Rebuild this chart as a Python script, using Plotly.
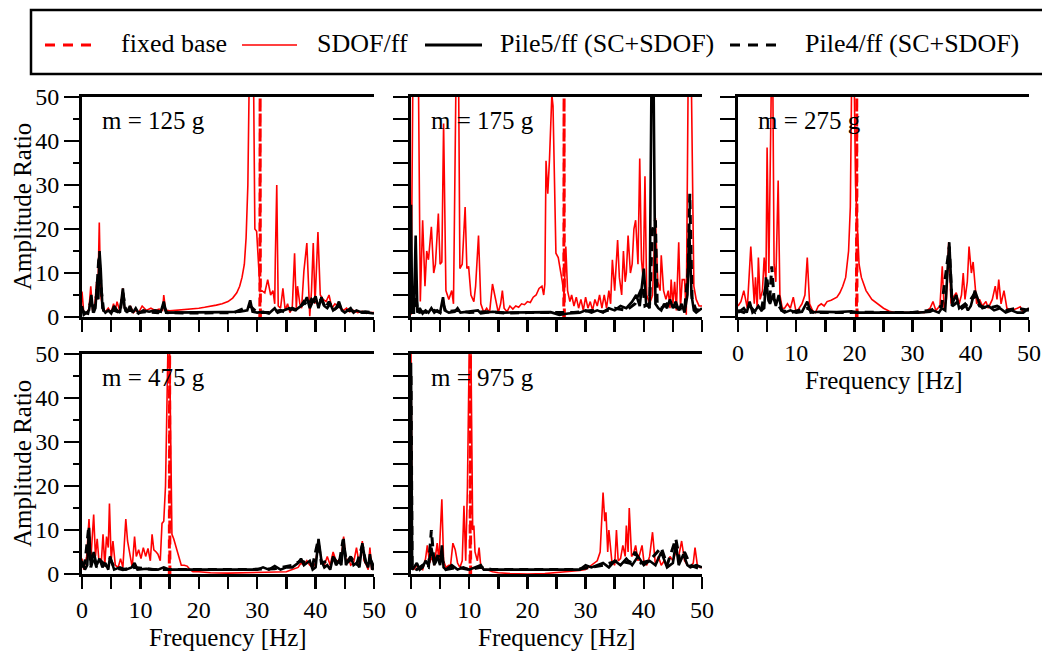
import plotly.graph_objects as go

# ---------------- data ----------------
MASS_LABELS = ["m = 125 g", "m = 175 g", "m = 275 g", "m = 475 g", "m = 975 g"]
X_TICKS = [0, 5, 10, 15, 20, 25, 30, 35, 40, 45, 50]
X_TICK_TEXT = ["0", "", "10", "", "20", "", "30", "", "40", "", "50"]
Y_TICKS = [0, 10, 20, 30, 40, 50]

SDOF_125 = [(0,5.8),(0.3,1.0),(0.8,0.8),(1.2,2.0),(1.5,7.0),(1.8,1.5),(2.2,3.0),(2.5,8.0),(2.7,4.0),(2.96,21.5),(3.2,5.0),(3.6,1.5),(4.0,1.2),(4.5,2.0),(5.0,1.0),(5.4,3.0),(5.7,1.5),(6.0,3.5),(6.5,1.2),(7.0,6.5),(7.3,2.0),(7.8,1.5),(8.3,2.5),(8.8,1.0),(9.2,1.5),(9.7,1.0),(10.3,2.5),(11.0,1.5),(11.8,2.0),(12.5,1.5),(13.2,1.8),(13.8,1.5),(14.0,5.0),(14.3,1.6),(15,1.4),(16,1.5),(17,1.6),(18,1.7),(19,1.9),(20,2.0),(21,2.2),(22,2.4),(23,2.7),(24,3.0),(25,3.5),(25.8,4.3),(26.5,5.5),(27.0,7.0),(27.4,9.0),(27.8,12.0),(28.1,18.0),(28.4,30.0),(28.6,50.5),(29.4,50.5),(29.6,20.0),(29.9,19.5),(30.2,12.0),(30.5,5.8),(30.8,6.0),(31.3,5.5),(31.8,8.5),(32.3,5.0),(32.7,6.0),(33.0,3.0),(33.1,13.0),(33.35,30.0),(33.6,2.5),(34.0,2.0),(34.4,6.5),(34.8,1.5),(35.2,3.0),(35.6,1.0),(36.0,2.0),(36.4,14.5),(36.7,2.0),(36.9,7.0),(37.3,3.0),(37.6,2.0),(38.0,10.5),(38.5,16.8),(38.8,7.0),(39.0,0.2),(39.3,6.0),(39.6,16.8),(39.9,3.0),(40.4,19.3),(40.8,5.0),(41.3,4.0),(41.8,3.5),(42.3,5.0),(42.8,2.0),(43.3,3.0),(43.8,2.5),(44.3,2.0),(44.8,1.5),(45.3,2.0),(45.8,1.2),(46.5,1.5),(47.2,1.0),(48,1.3),(48.7,0.8),(49.3,1.0),(50,1.0)]
PILE5_125 = [(0,2.5),(0.3,0.5),(0.8,1.0),(1.2,1.5),(1.6,5.0),(1.9,1.0),(2.3,2.0),(2.6,8.0),(2.8,4.0),(3.0,15.0),(3.2,11.0),(3.5,2.0),(4.0,1.0),(4.5,1.5),(5.0,0.8),(5.5,2.5),(6.0,1.5),(6.5,1.0),(7.0,6.5),(7.3,2.0),(7.7,1.0),(8.2,2.5),(8.7,1.0),(9.2,2.0),(9.7,0.8),(10.5,1.5),(11.5,1.2),(12.5,1.5),(13.5,1.2),(14.0,3.5),(14.4,1.0),(16,1.0),(20,1.0),(24,1.1),(27,1.2),(28.3,1.5),(28.8,3.8),(29.2,1.2),(30,1.0),(31,1.2),(32,0.8),(33,2.0),(33.5,1.0),(34.5,1.5),(35.5,2.0),(36.5,1.5),(37.5,2.5),(38.0,3.0),(38.5,4.5),(39.0,2.0),(39.5,3.5),(40.0,4.7),(40.5,2.0),(41.0,4.5),(41.5,2.5),(42.0,2.0),(42.5,3.0),(43.0,1.5),(43.5,2.0),(44.0,3.5),(44.5,1.5),(45.0,1.0),(45.5,1.5),(46.0,2.0),(46.5,1.0),(47.0,1.5),(48.0,1.0),(49.0,1.0),(50,0.8)]
PILE4_125 = [(0,1.5),(0.5,1.0),(1.0,0.8),(1.5,3.5),(2.0,1.0),(2.5,5.0),(2.9,14.0),(3.3,6.0),(3.7,1.5),(4.5,1.0),(5.5,1.5),(6.5,1.0),(7.0,5.5),(7.5,1.5),(8.5,1.5),(9.5,1.0),(11,1.2),(13,1.0),(14.0,2.5),(14.5,1.0),(18,0.9),(22,1.0),(26,1.0),(28.8,2.5),(30,1.0),(32,1.0),(34,1.5),(35,1.0),(36,2.0),(37,1.5),(38,3.5),(38.7,2.5),(39.3,4.0),(40.2,3.0),(41,4.0),(41.7,2.0),(42.3,3.5),(43,1.5),(44,2.5),(45,1.5),(46,1.5),(47,1.0),(48.5,1.2),(50,1.0)]
FIXED_125 = [(30.45,-1.0),(30.5,55.0),(30.55,-1.0)]

SDOF_175 = [(0,0.5),(0.15,20),(0.3,50.5),(1.3,50.5),(1.6,3.5),(2.0,22.0),(2.4,7.0),(2.7,15.0),(3.0,13.0),(3.5,20.5),(3.9,10.0),(4.2,12.0),(4.7,23.5),(5.0,12.0),(5.3,12.5),(5.6,44.0),(6.0,6.0),(6.5,4.0),(7.0,6.0),(7.3,3.0),(7.7,50.5),(8.2,50.5),(8.4,11.0),(8.8,12.0),(9.3,25.0),(9.6,11.0),(9.9,11.5),(10.3,5.0),(10.8,3.5),(11.1,7.0),(11.6,18.5),(12.0,3.0),(12.5,1.0),(13.0,2.0),(13.5,1.0),(14.0,7.5),(14.5,4.0),(15.0,1.0),(15.4,3.0),(15.7,6.0),(16.0,2.0),(16.5,1.2),(17.0,2.5),(17.5,1.8),(18.0,2.5),(18.5,2.2),(19.0,3.0),(19.5,2.8),(20.0,3.5),(20.5,3.3),(21.0,4.5),(21.5,5.0),(22.0,6.5),(22.5,7.0),(22.8,5.0),(23.0,7.5),(23.2,35.5),(23.5,28.0),(23.8,36.0),(24.0,45.0),(24.2,50.5),(24.4,48.0),(24.6,35.0),(24.9,14.5),(25.3,13.5),(25.6,11.5),(26.0,8.0),(26.3,5.0),(26.6,16.0),(26.9,6.0),(27.3,3.5),(27.6,5.0),(28.0,2.5),(28.4,4.5),(28.8,2.0),(29.2,4.0),(29.6,1.5),(30.0,4.5),(30.4,2.0),(30.8,3.5),(31.2,1.5),(31.6,4.0),(32.0,2.5),(32.4,5.0),(32.8,2.0),(33.2,5.0),(33.6,2.0),(34.0,6.0),(34.3,3.0),(34.6,13.0),(35.0,6.0),(35.5,17.5),(35.8,9.0),(36.2,5.0),(36.5,15.0),(36.8,8.0),(37.0,10.0),(37.3,18.5),(37.7,10.0),(38.0,12.0),(38.3,20.0),(38.6,22.0),(39.0,12.0),(39.3,36.0),(39.6,13.0),(39.9,8.5),(40.2,32.0),(40.5,5.0),(41.0,3.0),(41.5,5.0),(42.0,22.5),(42.4,8.0),(42.8,6.0),(43.0,14.0),(43.4,6.0),(43.8,4.0),(44.2,6.0),(44.5,2.0),(44.7,8.5),(45.0,3.0),(45.3,8.0),(45.6,1.5),(46.0,17.0),(46.3,2.0),(46.6,8.5),(47.0,8.5),(47.3,0.5),(47.6,50.5),(48.2,50.5),(48.6,7.0),(49.0,4.0),(49.5,2.5),(50,2.5)]
PILE5_175 = [(0,25.5),(0.2,1.0),(0.5,1.0),(0.8,18.5),(1.1,1.0),(1.5,2.0),(2,0.8),(2.5,1.5),(3,1.0),(3.5,2.0),(4,1.0),(4.5,1.5),(5.0,1.0),(5.5,4.5),(5.8,1.5),(6.5,1.0),(7.5,1.2),(8.0,2.0),(8.5,1.0),(10,1.2),(11.5,1.5),(12,0.8),(14,1.2),(16,1.0),(18,1.0),(20,1.0),(24,1.1),(25.5,0.5),(27,0.8),(29,1.0),(30,1.5),(31,1.0),(32,1.5),(33,1.0),(34,2.0),(35,1.5),(36,2.5),(37,2.0),(38,3.5),(38.7,5.0),(39.3,2.5),(40.0,11.0),(40.4,3.0),(41.0,2.0),(41.3,50.5),(41.7,50.5),(42.0,3.0),(42.5,2.0),(43,1.5),(43.5,3.0),(44,2.0),(44.5,4.0),(45,2.0),(45.5,3.5),(46,1.5),(46.5,3.0),(47,1.0),(47.5,5.0),(47.8,20.0),(48.2,5.0),(48.6,1.5),(49,1.0),(50,2.0)]
PILE4_175 = [(0,3.0),(0.4,1.0),(0.8,5.0),(1.2,1.0),(2,1.2),(3,1.0),(4,1.5),(5.0,1.0),(5.5,3.0),(6,1.2),(8,1.5),(10,1.0),(13,1.2),(16,0.9),(20,1.0),(24,1.0),(28,1.0),(31,1.5),(33,1.2),(35,2.0),(37,1.5),(38.5,3.0),(39.3,5.5),(39.8,7.0),(40.2,2.5),(41,3.0),(41.5,20.0),(42.0,22.0),(42.3,3.0),(43,2.0),(44,3.0),(45,2.5),(46,2.0),(47,1.5),(47.6,10.0),(47.9,28.0),(48.3,4.0),(49,1.5),(50,2.0)]
FIXED_175 = [(26.25,-1.0),(26.3,55.0),(26.35,-1.0)]

SDOF_275 = [(0,2.5),(0.5,3.5),(1.0,6.0),(1.3,4.0),(1.6,2.0),(2.2,16.0),(2.5,10.0),(2.8,3.0),(3.0,9.0),(3.3,2.0),(3.5,13.5),(3.8,4.0),(4.2,6.0),(4.5,13.5),(4.8,8.0),(5.0,38.5),(5.3,10.0),(5.6,40.0),(5.7,50.5),(6.0,50.5),(6.2,12.0),(6.5,8.0),(6.9,31.0),(7.2,5.0),(7.6,2.0),(8.0,2.0),(8.5,3.0),(9.0,2.0),(9.5,4.5),(10.0,1.0),(10.5,2.0),(11.0,3.0),(11.5,5.0),(11.9,13.5),(12.3,3.0),(12.8,1.5),(13.3,1.0),(13.8,2.5),(14.3,3.0),(14.8,2.5),(15.3,3.5),(16.0,3.8),(17.0,4.5),(17.5,5.5),(18.0,7.0),(18.5,9.0),(19.0,15.0),(19.3,25.0),(19.5,50.5),(20.0,50.5),(20.2,30.0),(20.5,20.0),(20.8,12.0),(21.2,9.0),(22.0,6.0),(23.0,4.0),(24.0,3.0),(25.0,2.0),(26.0,1.3),(27.0,1.0),(28,1.0),(30,1.0),(31,1.2),(32,1.0),(33,2.0),(33.5,3.5),(34,1.5),(34.7,2.5),(35.1,11.5),(35.4,2.0),(35.8,4.0),(36.2,17.0),(36.6,3.0),(37.0,4.5),(37.5,5.5),(38.0,3.0),(38.4,5.0),(38.7,10.0),(39.0,4.0),(39.4,8.0),(39.7,16.0),(40.1,10.0),(40.4,12.5),(40.7,7.0),(41.0,3.0),(41.5,4.0),(42.0,2.5),(42.6,3.5),(43.0,2.0),(43.7,4.0),(44.2,7.0),(44.5,4.0),(44.8,8.5),(45.2,3.0),(45.7,6.0),(46.2,2.0),(47,1.5),(48,2.0),(48.5,2.3),(49,1.0),(50,2.0)]
PILE5_275 = [(0,1.0),(0.5,1.5),(1.0,2.0),(1.5,1.0),(2.0,3.5),(2.5,1.0),(3.0,1.5),(3.5,2.5),(4.0,1.5),(4.5,2.0),(4.8,9.0),(5.2,4.0),(5.5,3.0),(6.0,5.0),(6.5,2.5),(7.0,5.0),(7.5,1.5),(8,1.0),(9,1.5),(10,1.0),(11,1.2),(11.9,3.5),(12.5,1.0),(14,1.2),(17,1.1),(19.5,1.3),(20.5,1.0),(24,1.0),(28,1.0),(31,1.0),(33,1.2),(33.5,1.5),(34.5,1.0),(35,2.0),(35.6,1.5),(36.3,17.0),(36.8,3.0),(37.5,5.0),(38,2.0),(38.5,2.5),(39,3.0),(39.5,1.5),(40,2.5),(40.7,6.0),(41.5,3.0),(42,2.0),(43,2.5),(44,1.5),(45,2.0),(46,1.0),(47,1.5),(48,1.0),(49,1.0),(50,2.0)]
PILE4_275 = [(0,1.5),(1,1.0),(2,2.5),(3,1.0),(4,1.5),(5.0,8.5),(5.4,3.0),(5.8,11.5),(6.2,4.0),(6.8,3.0),(7.5,1.5),(9,1.0),(12,2.0),(13,1.0),(18,1.0),(22,1.1),(26,1.0),(30,1.0),(33,1.5),(35,2.5),(36.3,16.0),(36.8,2.5),(37.8,3.5),(38.5,2.0),(39.5,3.0),(40.5,5.0),(41.5,2.5),(43,2.0),(44.5,2.5),(46,1.5),(48,2.0),(50,1.5)]
FIXED_275 = [(20.35,-1.0),(20.4,55.0),(20.45,-1.0)]

SDOF_475 = [(0,3.5),(0.3,1.0),(0.8,4.0),(1.2,12.5),(1.5,3.0),(2.0,13.5),(2.3,4.0),(2.6,8.0),(2.9,3.0),(3.3,2.5),(3.6,9.0),(3.9,2.0),(4.2,8.5),(4.5,6.0),(4.7,16.0),(5.0,3.0),(5.3,7.5),(5.7,2.0),(6.2,1.5),(6.6,3.5),(7.0,1.5),(7.5,12.5),(7.8,7.5),(8.2,4.0),(8.6,1.5),(9.0,8.5),(9.3,4.0),(9.7,5.5),(10.1,3.5),(10.5,6.0),(10.9,4.0),(11.3,5.8),(11.7,3.0),(12.0,9.0),(12.3,5.5),(12.7,5.0),(13.0,4.5),(13.4,3.0),(13.7,11.5),(14.0,12.0),(14.3,20.0),(14.5,35.0),(14.7,50.5),(15.0,50.5),(15.2,20.0),(15.4,9.0),(15.7,8.0),(16.0,6.5),(16.5,4.0),(17.0,2.0),(17.5,2.0),(18.0,1.8),(18.5,1.0),(19.0,0.5),(20,0.5),(22,0.3),(25,0.2),(28,0.3),(30,0.3),(32,0.5),(35,0.5),(36,1.0),(37,1.5),(37.5,2.5),(38,2.0),(38.5,3.0),(39,2.0),(39.5,1.5),(40,2.5),(40.5,7.5),(41,3.0),(41.5,2.0),(42,4.0),(42.5,2.0),(43,5.0),(43.5,3.0),(44,3.0),(44.5,5.0),(44.8,8.5),(45.2,3.0),(45.7,3.5),(46,2.0),(46.5,2.5),(47,6.0),(47.5,2.0),(48,7.5),(48.3,3.0),(48.7,2.0),(49,1.0),(49.3,6.0),(49.6,1.0),(50,1.5)]
PILE5_475 = [(0,3.0),(0.5,1.0),(0.9,2.0),(1.2,10.5),(1.5,2.0),(2.0,5.0),(2.5,2.0),(3.0,3.5),(3.5,1.5),(4.0,2.5),(4.5,1.0),(4.8,4.0),(5.5,1.0),(6.5,1.5),(7.5,1.0),(8.5,1.5),(9.0,2.5),(9.5,1.0),(11,1.2),(13,1.0),(14,1.5),(15,1.0),(20,1.0),(25,1.0),(30,1.0),(31,1.5),(32,1.0),(33,1.8),(34,1.0),(35,1.5),(36,1.5),(37,2.5),(37.5,3.5),(38,2.0),(39,3.0),(39.5,1.0),(40,1.5),(40.5,8.0),(41,3.0),(41.5,1.5),(42,2.0),(42.5,1.0),(43,4.0),(43.5,2.0),(44,3.0),(44.4,2.0),(44.8,8.0),(45.2,2.0),(45.5,3.0),(46,4.0),(46.5,2.0),(47,2.5),(47.5,1.5),(48,7.0),(48.5,3.0),(49,1.5),(49.3,4.5),(49.7,1.0),(50,1.5)]
PILE4_475 = [(0,1.5),(0.5,2.5),(1.1,10.0),(1.5,1.5),(2,4.0),(2.5,1.5),(3.2,3.0),(4,2.0),(4.8,3.5),(5.5,1.5),(7,1.0),(9,1.5),(12,1.0),(16,1.0),(22,1.0),(28,1.0),(33,1.2),(36,2.0),(37.5,3.0),(38.5,2.5),(39.5,2.0),(40.4,7.5),(41,2.5),(42.2,3.0),(43.2,3.5),(44,2.0),(44.7,7.8),(45.3,2.5),(46.2,3.5),(47,2.0),(48,6.5),(48.7,2.0),(49.5,3.0),(50,1.5)]
FIXED_475 = [(14.95,-1.0),(15.0,55.0),(15.05,-1.0)]

SDOF_975 = [(0,50.5),(0.2,2.0),(0.5,1.0),(1.0,2.0),(1.5,1.5),(2.0,1.0),(2.5,3.5),(2.8,6.5),(3.2,2.5),(3.6,4.0),(4.0,2.0),(4.5,7.0),(4.8,3.0),(5.3,17.0),(5.6,3.0),(6.0,1.5),(6.5,2.0),(6.8,2.0),(7.2,7.0),(7.6,5.5),(8.0,2.5),(8.4,1.5),(8.8,3.0),(9.1,15.5),(9.4,3.0),(9.7,20.0),(10.0,50.5),(10.3,50.5),(10.6,10.0),(10.8,11.0),(11.0,5.0),(11.4,3.0),(11.7,6.0),(12.0,1.5),(12.5,1.0),(13,1.0),(14,0.5),(15,0.3),(17,0.1),(20,0.0),(23,0.1),(25,0.3),(27,0.5),(29,0.8),(30,1.0),(31,2.0),(32,3.0),(32.5,5.0),(33.0,18.5),(33.3,12.0),(33.5,14.0),(33.8,5.0),(34.0,10.0),(34.5,3.0),(35.0,2.0),(35.3,10.0),(35.6,3.0),(36.0,3.5),(36.4,6.5),(36.8,4.0),(37.0,11.0),(37.3,5.0),(37.5,15.0),(37.9,4.0),(38.2,4.5),(38.6,6.5),(39.0,3.0),(39.7,6.5),(40.0,3.0),(40.5,2.0),(41.0,4.0),(41.5,9.5),(42.0,2.0),(42.5,4.0),(43.0,2.0),(43.5,3.0),(44.0,2.0),(44.5,4.0),(45.0,3.0),(45.5,5.0),(46.0,4.0),(46.5,7.5),(47.0,3.0),(47.5,2.0),(48.0,1.5),(48.5,2.5),(48.8,6.0),(49.2,2.0),(49.6,1.5),(50,1.5)]
PILE5_975 = [(0,48.0),(0.2,1.0),(0.5,1.5),(1.0,2.5),(1.5,1.0),(2.0,1.5),(2.5,3.0),(3.0,2.0),(3.5,6.0),(4.0,2.0),(4.5,4.0),(5.0,2.0),(5.3,6.5),(5.6,1.5),(6.0,1.0),(7.0,2.0),(8.0,1.0),(9.0,1.5),(10,1.0),(11,1.5),(12,2.0),(12.5,1.0),(15,1.0),(20,1.0),(25,1.0),(29,1.0),(30,2.0),(31,1.5),(32,2.0),(33,2.5),(34,1.5),(35,3.0),(36,2.0),(37,3.5),(38,2.0),(39,4.0),(40,2.0),(41,3.0),(42,2.0),(43,5.0),(44,1.5),(45,2.5),(45.5,7.0),(46,2.0),(46.8,4.5),(47.5,2.0),(48,1.5),(49,2.0),(50,1.5)]
PILE4_975 = [(0,45.0),(0.2,1.5),(1,1.0),(2,2.0),(3,1.5),(3.5,10.0),(4,2.0),(4.8,5.0),(5.4,3.0),(6,1.0),(8,1.5),(10,1.0),(12,1.5),(14,1.0),(20,1.0),(28,1.0),(31,1.5),(33,2.0),(35.5,3.0),(37.5,2.5),(38.5,5.0),(39.5,2.5),(41,3.0),(43,6.0),(44,2.0),(45.5,8.0),(46.2,3.0),(47,5.0),(48,2.0),(49,1.5),(50,1.0)]
FIXED_975 = [(10.15,-1.0),(10.2,55.0),(10.25,-1.0)]

SERIES = [
    (SDOF_125, PILE5_125, PILE4_125, FIXED_125),
    (SDOF_175, PILE5_175, PILE4_175, FIXED_175),
    (SDOF_275, PILE5_275, PILE4_275, FIXED_275),
    (SDOF_475, PILE5_475, PILE4_475, FIXED_475),
    (SDOF_975, PILE5_975, PILE4_975, FIXED_975),
]

# ---------------- layout geometry (screen pixels) ----------------
W, H = 1042, 654
BOXES = [(82, 374, 97, 317), (411, 702, 97, 317), (738, 1029, 97, 317),
         (82, 374, 354, 574), (411, 702, 354, 574)]
SHOW_X_LABELS = [False, False, True, True, True]
SHOW_Y_LABELS = [True, False, False, True, False]
FONT = "Liberation Serif, Times New Roman, serif"


def fx(p):
    return p / W


def fy(p):
    return 1 - p / H


fig = go.Figure()

for i, (sdof, p5, p4, fixed) in enumerate(SERIES):
    xa = "x" if i == 0 else f"x{i+1}"
    ya = "y" if i == 0 else f"y{i+1}"
    fig.add_trace(go.Scatter(x=[p[0] for p in sdof], y=[p[1] for p in sdof], mode="lines",
                             line=dict(color="#ff0000", width=1.6), xaxis=xa, yaxis=ya,
                             name="SDOF/ff", showlegend=False))
    fig.add_trace(go.Scatter(x=[p[0] for p in fixed], y=[p[1] for p in fixed], mode="lines",
                             line=dict(color="#ff0000", width=3, dash="9px,6px"), xaxis=xa, yaxis=ya,
                             name="fixed base", showlegend=False))
    fig.add_trace(go.Scatter(x=[p[0] for p in p4], y=[p[1] for p in p4], mode="lines",
                             line=dict(color="#000000", width=3, dash="9px,6px"), xaxis=xa, yaxis=ya,
                             name="Pile4/ff (SC+SDOF)", showlegend=False))
    fig.add_trace(go.Scatter(x=[p[0] for p in p5], y=[p[1] for p in p5], mode="lines",
                             line=dict(color="#000000", width=2.6), xaxis=xa, yaxis=ya,
                             name="Pile5/ff (SC+SDOF)", showlegend=False))

layout = dict(width=W, height=H, margin=dict(l=0, r=0, t=0, b=0, autoexpand=False),
              paper_bgcolor="white", plot_bgcolor="white", showlegend=False,
              font=dict(family=FONT, size=24, color="black"))

for i, (x0, x1, y0, y1) in enumerate(BOXES):
    kx = "xaxis" if i == 0 else f"xaxis{i+1}"
    ky = "yaxis" if i == 0 else f"yaxis{i+1}"
    ya = "y" if i == 0 else f"y{i+1}"
    xa = "x" if i == 0 else f"x{i+1}"
    layout[kx] = dict(domain=[fx(x0), fx(x1)], anchor=ya, range=[0, 50], automargin=False,
                      tickvals=X_TICKS, ticktext=X_TICK_TEXT, showticklabels=SHOW_X_LABELS[i],
                      ticks="outside", ticklen=12, tickwidth=2.5, tickcolor="black",
                      showline=True, linewidth=3, linecolor="black", mirror=True,
                      showgrid=False, zeroline=False, tickfont=dict(size=24, family=FONT))
    ydict = dict(domain=[fy(y1), fy(y0)], anchor=xa, range=[0, 50], automargin=False,
                 showline=True, linewidth=3, linecolor="black", mirror=False,
                 showgrid=False, zeroline=False, ticks="outside", tickwidth=2.5,
                 tickcolor="black", tickfont=dict(size=24, family=FONT))
    if SHOW_Y_LABELS[i]:
        ydict.update(tickvals=Y_TICKS, ticklen=15,
                     minor=dict(dtick=5, tick0=0, ticklen=6, tickwidth=2.5, ticks="outside",
                                tickcolor="black", showgrid=False))
    else:
        ydict.update(tickvals=list(range(0, 55, 5)), ticklen=15, showticklabels=False)
    layout[ky] = ydict

fig.update_layout(**layout)

annotations = []
for i, (x0, x1, y0, y1) in enumerate(BOXES):
    annotations.append(dict(x=fx(x0 + 18), y=fy(y0 + 23), xref="paper", yref="paper",
                            text=MASS_LABELS[i], showarrow=False, xanchor="left", yanchor="middle",
                            font=dict(size=25, family=FONT)))
    if SHOW_Y_LABELS[i]:
        annotations.append(dict(x=fx(22), y=fy((y0 + y1) / 2), xref="paper", yref="paper",
                                text="Amplitude Ratio", textangle=-90, showarrow=False,
                                xanchor="center", yanchor="middle", font=dict(size=25, family=FONT)))
    if SHOW_X_LABELS[i]:
        annotations.append(dict(x=fx((x0 + x1) / 2), y=fy(y1 + 63), xref="paper", yref="paper",
                                text="Frequency [Hz]", showarrow=False,
                                xanchor="center", yanchor="middle", font=dict(size=25, family=FONT)))

# legend (drawn as a framed row at the top)
LEGEND_ITEMS = [("fixed base", "#ff0000", "10px,8px", 45, 93, 119),
                ("SDOF/ff", "#ff0000", "solid", 242, 297, 315),
                ("Pile5/ff (SC+SDOF)", "#000000", "solid", 425, 482, 498),
                ("Pile4/ff (SC+SDOF)", "#000000", "10px,8px", 730, 777, 803)]
shapes = [dict(type="rect", xref="paper", yref="paper", x0=fx(31), x1=fx(1050), y0=fy(74), y1=fy(10),
               line=dict(color="black", width=2.5), fillcolor="rgba(0,0,0,0)")]
for text, color, dash, lx0, lx1, tx in LEGEND_ITEMS:
    width = 3 if (dash != "solid" or color == "#000000") else 1.6
    shapes.append(dict(type="line", xref="paper", yref="paper", x0=fx(lx0), x1=fx(lx1),
                       y0=fy(45), y1=fy(45), line=dict(color=color, width=width, dash=dash)))
    annotations.append(dict(x=fx(tx), y=fy(43), xref="paper", yref="paper", text=text,
                            showarrow=False, xanchor="left", yanchor="middle",
                            font=dict(size=26, family=FONT)))

fig.update_layout(annotations=annotations, shapes=shapes)

# place the figure at the very top-left of the page, with no scrollbars
PAGE_STYLE_JS = ("document.body.style.margin='0px';"
                 "document.body.style.overflow='hidden';"
                 "document.documentElement.style.overflow='hidden';")
fig.write_html("out.html", post_script=PAGE_STYLE_JS,
               config={"displayModeBar": False, "staticPlot": True})
